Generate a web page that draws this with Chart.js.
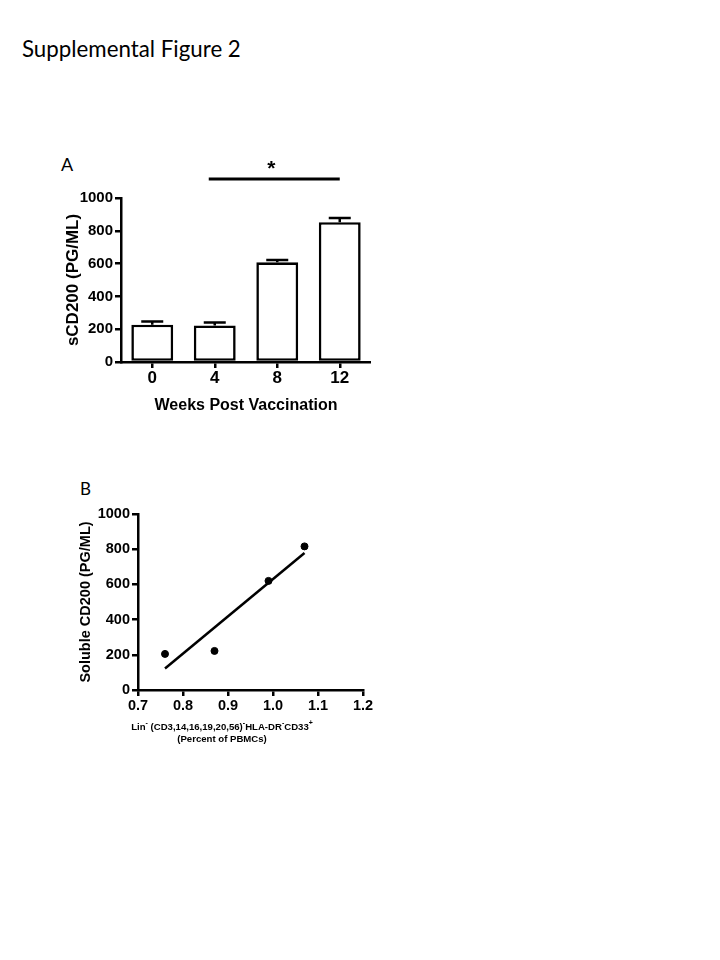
<!DOCTYPE html>
<html>
<head>
<meta charset="utf-8">
<script src="https://cdn.jsdelivr.net/npm/chart.js@4.4.0/dist/chart.umd.min.js"></script>
<style>
  body { margin: 0; background: #fff; width: 720px; height: 960px; position: relative; overflow: hidden; }
  .txt { position: absolute; color: #000; font-family: Lato, "Liberation Sans", sans-serif; line-height: 1; }
  .box { position: absolute; }
</style>
</head>
<body>
<div class="txt" style="left:22px;top:38px;font-size:22.3px;">Supplemental Figure 2</div>
<div class="txt" style="left:61px;top:155px;font-size:18px;">A</div>
<div class="txt" style="left:80px;top:480px;font-size:17px;">B</div>
<div class="box" style="left:50px;top:140px;width:321px;height:280px;"><canvas id="chartA"></canvas></div>
<div class="box" style="left:65px;top:500px;width:320px;height:260px;"><canvas id="chartB"></canvas></div>
<script>
// panel A: sCD200 by week
const weeks = ["0", "4", "8", "12"];
const sCD200 = [227, 223, 608, 852];
const sCD200Err = [20, 18, 14, 26];
const sigFrom = "4";
const sigTo = "12";

// panel B: correlation
const cellPct = [0.76, 0.87, 0.99, 1.07];
const solubleCD200 = [205, 222, 620, 816];
const fitX = [0.76, 1.07];
const fitY = [122, 778];

const FONT = "'Liberation Sans', Arial, sans-serif";
Chart.defaults.font.family = FONT;
Chart.defaults.color = "#000";

function axisOpts(extra) {
  return Object.assign({
    border: { color: "#000", width: 2.5 },
    grid: { display: true, drawOnChartArea: false, offset: false, color: "#000", lineWidth: 2.5, tickLength: 6 },
  }, extra);
}

const errorBars = {
  id: "errorBars",
  afterDatasetsDraw(chart) {
    const {ctx, scales: {x, y}} = chart;
    ctx.save();
    ctx.strokeStyle = "#000";
    ctx.lineWidth = 2.5;
    sCD200.forEach((v, i) => {
      const px = x.getPixelForValue(i);
      const y0 = y.getPixelForValue(v);
      const y1 = y.getPixelForValue(v + sCD200Err[i]);
      ctx.beginPath();
      ctx.moveTo(px, y0);
      ctx.lineTo(px, y1);
      ctx.moveTo(px - 11, y1);
      ctx.lineTo(px + 11, y1);
      ctx.stroke();
    });
    // significance bar
    const xa = x.getPixelForValue(weeks.indexOf(sigFrom)) - 6;
    const xb = x.getPixelForValue(weeks.indexOf(sigTo));
    const ly = chart.chartArea.top - 19;
    ctx.lineWidth = 3;
    ctx.beginPath();
    ctx.moveTo(xa, ly);
    ctx.lineTo(xb, ly);
    ctx.stroke();
    ctx.fillStyle = "#000";
    ctx.font = "bold 21px " + FONT;
    ctx.textAlign = "center";
    ctx.textBaseline = "middle";
    ctx.fillText("*", (xa + xb) / 2 - 3, ly - 10);
    ctx.restore();
  }
};

new Chart(document.getElementById("chartA"), {
  type: "bar",
  data: {
    labels: weeks,
    datasets: [{
      data: sCD200,
      backgroundColor: "#fff",
      borderColor: "#000",
      borderWidth: 2.6,
      borderSkipped: false,
      categoryPercentage: 1,
      barPercentage: 0.67,
    }]
  },
  options: {
    responsive: true,
    maintainAspectRatio: false,
    animation: false,
    events: [],
    layout: { padding: { top: 58, right: 0, left: 0, bottom: 0 } },
    plugins: { legend: { display: false }, tooltip: { enabled: false } },
    scales: {
      x: axisOpts({
        ticks: { font: { size: 17, weight: "bold" }, padding: 0 },
        title: { display: true, text: "Weeks Post Vaccination", font: { size: 16, weight: "bold" }, padding: { top: 0, bottom: 5 } },
        afterFit(s) { s.height = 58; },
      }),
      y: axisOpts({
        min: 0, max: 1000,
        ticks: { stepSize: 200, font: { size: 15, weight: "bold" }, padding: 2, callback: v => String(v) },
        title: { display: true, text: "sCD200 (PG/ML)", font: { size: 17, weight: "bold" }, padding: { top: 13, bottom: 0 } },
        afterFit(s) { s.width = 71; },
      }),
    }
  },
  plugins: [errorBars]
});

const xTitleB = {
  id: "xTitleB",
  afterDraw(chart) {
    const {ctx, chartArea} = chart;
    const cx = chartArea.left + 84;
    const segs = [["Lin", 0], ["-", 1], [" (CD3,14,16,19,20,56)", 0], ["-", 1], ["HLA-DR", 0], ["-", 1], ["CD33", 0], ["+", 1]];
    const big = "bold 9.6px " + FONT, small = "bold 7px " + FONT;
    ctx.save();
    ctx.fillStyle = "#000";
    ctx.textBaseline = "middle";
    ctx.textAlign = "left";
    let w = 0;
    segs.forEach(([t, sup]) => { ctx.font = sup ? small : big; w += ctx.measureText(t).width; });
    let px = cx - w / 2;
    const ly = chartArea.bottom + 37;
    segs.forEach(([t, sup]) => {
      ctx.font = sup ? small : big;
      ctx.fillText(t, px, sup ? ly - 4 : ly);
      px += ctx.measureText(t).width;
    });
    ctx.font = big;
    ctx.textAlign = "center";
    ctx.fillText("(Percent of PBMCs)", cx, ly + 12);
    ctx.restore();
  }
};

new Chart(document.getElementById("chartB"), {
  type: "scatter",
  data: {
    datasets: [{
      data: cellPct.map((v, i) => ({ x: v, y: solubleCD200[i] })),
      backgroundColor: "#000",
      borderColor: "#000",
      pointRadius: 3.5,
      showLine: false,
    }, {
      data: fitX.map((v, i) => ({ x: v, y: fitY[i] })),
      borderColor: "#000",
      borderWidth: 2.5,
      pointRadius: 0,
      showLine: true,
    }]
  },
  options: {
    responsive: true,
    maintainAspectRatio: false,
    animation: false,
    events: [],
    layout: { padding: { top: 14, right: 22, left: 0, bottom: 0 } },
    plugins: { legend: { display: false }, tooltip: { enabled: false } },
    scales: {
      x: axisOpts({
        min: 0.7, max: 1.2,
        ticks: { stepSize: 0.1, font: { size: 14.5, weight: "bold" }, padding: 1, callback: v => v.toFixed(1) },
        afterFit(s) { s.height = 70; },
      }),
      y: axisOpts({
        min: 0, max: 1000,
        ticks: { stepSize: 200, font: { size: 14.5, weight: "bold" }, padding: 2, callback: v => String(v) },
        title: { display: true, text: "Soluble CD200 (PG/ML)", font: { size: 14.5, weight: "bold" }, padding: { top: 12, bottom: 0 } },
        afterFit(s) { s.width = 73; },
      }),
    }
  },
  plugins: [xTitleB]
});
</script>
</body>
</html>
